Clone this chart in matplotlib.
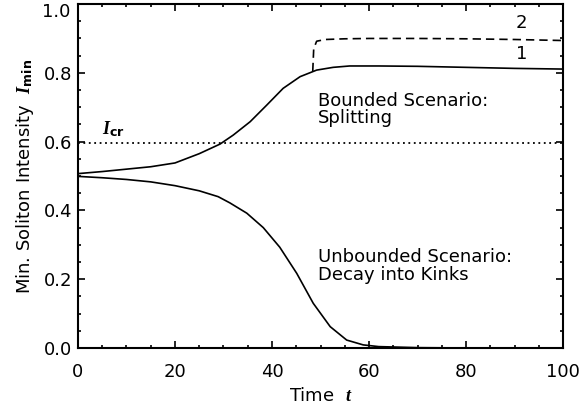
import matplotlib

matplotlib.use("Agg")
import matplotlib.pyplot as plt
from matplotlib.ticker import FuncFormatter, MultipleLocator

plt.rcParams["font.family"] = ["DejaVu Sans"]
plt.rcParams["mathtext.fontset"] = "custom"
plt.rcParams["mathtext.it"] = "Liberation Serif:italic:bold"
plt.rcParams["mathtext.rm"] = "DejaVu Sans:bold"

# curve 1: bounded scenario (soliton splits, intensity saturates)
t_bounded = [0, 5, 10, 15, 20, 25, 29.3, 32, 35.5, 38.9, 42.3, 45.8, 49.2,
             52.6, 56, 62, 70, 80, 90, 100]
i_bounded = [0.507, 0.513, 0.520, 0.527, 0.538, 0.565, 0.593, 0.619, 0.658,
             0.706, 0.755, 0.789, 0.808, 0.816, 0.820, 0.820, 0.819, 0.816,
             0.813, 0.811]

# curve 2: branch leaving curve 1 near t = 48
t_branch = [48.4, 48.6, 49.2, 51, 55, 60, 70, 80, 90, 100]
i_branch = [0.805, 0.870, 0.892, 0.897, 0.899, 0.900, 0.900, 0.899, 0.897, 0.894]

# unbounded scenario: decay into kinks
t_decay = [0, 5, 10, 15, 20, 25, 28.9, 31.3, 34.8, 38.2, 41.6, 45.1, 48.5,
           52, 55.4, 58.8, 62, 70, 80, 90, 100]
i_decay = [0.499, 0.495, 0.490, 0.483, 0.472, 0.457, 0.440, 0.422, 0.392,
           0.350, 0.293, 0.217, 0.130, 0.062, 0.023, 0.009, 0.004, 0.001,
           0.0, 0.0, 0.0]

i_critical = 0.595

fig = plt.figure(figsize=(5.79, 4.07), dpi=100)
ax = fig.add_axes([0.1347, 0.145, 0.8377, 0.845])

ax.plot(t_bounded, i_bounded, color="black", lw=1.2)
ax.plot(t_branch, i_branch, color="black", lw=1.2, linestyle=(0, (5, 3)))
ax.plot(t_decay, i_decay, color="black", lw=1.2)
ax.axhline(i_critical, color="black", lw=1.3, linestyle=(0, (1, 2)))

ax.set_xlim(0, 100)
ax.set_ylim(0, 1.0)
ax.xaxis.set_major_locator(MultipleLocator(20))
ax.xaxis.set_minor_locator(MultipleLocator(5))
ax.yaxis.set_major_locator(MultipleLocator(0.2))
ax.yaxis.set_minor_locator(MultipleLocator(0.05))
# the 1.0 label is drawn separately below so it hangs under the top edge
ax.yaxis.set_major_formatter(
    FuncFormatter(lambda v, _: "" if v > 0.99 else f"{v:.1f}"))

ax.tick_params(which="both", direction="in", top=True, right=True,
               labelsize=13, width=1.2)
ax.tick_params(axis="x", which="major", length=5, pad=11)
ax.tick_params(axis="y", which="major", length=5, pad=4)
ax.tick_params(which="minor", length=2.5)
for spine in ax.spines.values():
    spine.set_linewidth(1.5)

ax.annotate("1.0", xy=(0, 1.0), xycoords=("axes fraction", "data"),
            xytext=(-5.5, 1), textcoords="offset points",
            ha="right", va="top", fontsize=13)

ax.set_xlabel(r"Time  $t$", fontsize=13, labelpad=4)
ax.set_ylabel(r"Min. Soliton Intensity  $I_{\mathrm{min}}$", fontsize=13,
              labelpad=6)

ax.text(5.0, 0.622, r"$I_{\mathrm{cr}}$", fontsize=13, ha="left",
        va="baseline")
ax.text(91.5, 0.84, "1", fontsize=13, ha="center", va="baseline")
ax.text(91.5, 0.93, "2", fontsize=13, ha="center", va="baseline")
ax.text(49.5, 0.745, "Bounded Scenario:\nSplitting", fontsize=13,
        ha="left", va="top", linespacing=0.95)
ax.text(49.5, 0.29, "Unbounded Scenario:\nDecay into Kinks", fontsize=13,
        ha="left", va="top", linespacing=0.95)

fig.savefig("out.png", dpi=100)
plt.close(fig)
